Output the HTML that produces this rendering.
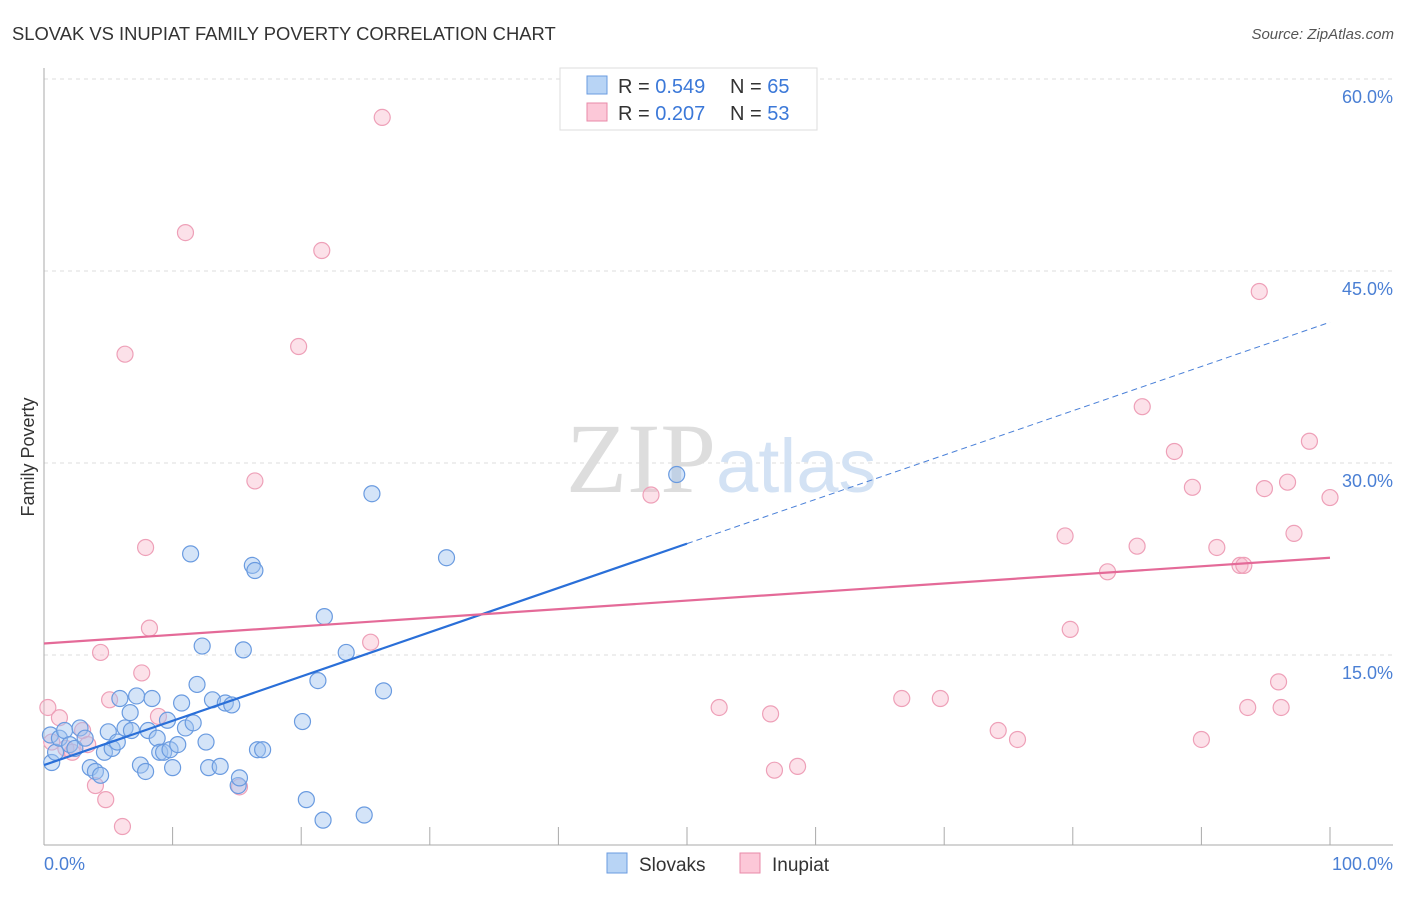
<!DOCTYPE html>
<html><head><meta charset="utf-8"><style>
body{margin:0;background:#fff;font-family:"Liberation Sans",sans-serif}
</style></head><body>
<svg width="1406" height="892" xmlns="http://www.w3.org/2000/svg" style="font-family:'Liberation Sans',sans-serif">
<text x="12" y="40" font-size="18.4" fill="#333">SLOVAK VS INUPIAT FAMILY POVERTY CORRELATION CHART</text>
<text x="1394" y="39" font-size="15" fill="#555" font-style="italic" text-anchor="end">Source: ZipAtlas.com</text>
<g id="grid"></g>
<text x="716" y="492" font-size="100" fill="#ddd" text-anchor="end" font-family="'Liberation Serif',serif">ZIP</text>
<text x="716" y="492" font-size="76" fill="#d3e2f4">atlas</text>
<text transform="translate(34,457) rotate(-90)" font-size="18" fill="#333" text-anchor="middle">Family Poverty</text>
<g id="pts"></g>
<g id="lines"></g>
<g>
<rect x="560" y="68" width="257" height="62" fill="#fff" stroke="#ddd"/>
<rect x="587" y="76" width="20" height="18" fill="#b8d4f5" stroke="#6a9be0"/>
<rect x="587" y="103" width="20" height="18" fill="#fcc8d8" stroke="#e88aa8"/>
<text x="618" y="93" font-size="20" fill="#333">R = <tspan fill="#3b78d8">0.549</tspan></text>
<text x="730" y="93" font-size="20" fill="#333">N = <tspan fill="#3b78d8">65</tspan></text>
<text x="618" y="120" font-size="20" fill="#333">R = <tspan fill="#3b78d8">0.207</tspan></text>
<text x="730" y="120" font-size="20" fill="#333">N = <tspan fill="#3b78d8">53</tspan></text>
</g>
<g>
<rect x="607" y="853" width="20" height="20" fill="#b8d4f5" stroke="#6a9be0"/>
<text x="639" y="871" font-size="19" fill="#333">Slovaks</text>
<rect x="740" y="853" width="20" height="20" fill="#fcc8d8" stroke="#e88aa8"/>
<text x="772" y="871" font-size="19" fill="#333">Inupiat</text>
</g>
</svg>
<script>
const blueX=[0.5,0.6,0.9,1.2,1.6,2.0,2.4,2.8,3.2,3.6,4.0,4.4,4.7,5.0,5.3,5.7,5.9,6.3,6.7,6.8,7.2,7.5,7.9,8.1,8.4,8.8,9.0,9.3,9.6,9.8,10.0,10.4,10.7,11.0,11.4,11.6,11.9,12.3,12.6,12.8,13.1,13.7,14.1,14.6,15.1,15.2,15.5,16.2,16.4,16.6,17.0,20.1,20.4,21.3,21.7,21.8,23.5,24.9,25.5,26.4,31.3,49.2];
const blueY=[8.75,6.6,7.4,8.5,9.1,8.0,7.7,9.3,8.5,6.2,5.9,5.6,7.4,9.0,7.7,8.2,11.6,9.3,10.5,9.1,11.8,6.4,5.9,9.1,11.6,8.5,7.4,7.4,9.9,7.6,6.2,8.0,11.25,9.3,22.9,9.7,12.7,15.7,8.2,6.2,11.5,6.3,11.25,11.1,4.8,5.4,15.4,22.0,21.6,7.6,7.6,9.8,3.7,13.0,2.1,18.0,15.2,2.5,27.6,12.2,22.6,29.1];
const pinkX=[0.3,0.6,1.2,1.7,2.2,3.0,3.4,4.0,4.4,4.8,5.1,6.1,6.3,7.6,7.9,8.2,8.9,11.0,15.2,16.4,19.8,21.6,25.4,26.3,47.2,52.5,56.5,56.8,58.6,66.7,69.7,74.2,75.7,79.4,79.8,82.7,85.0,85.4,87.9,89.3,90.0,91.2,93.0,93.3,93.6,94.5,94.9,96.0,96.2,96.7,97.2,98.4,100];
const pinkY=[10.9,8.2,10.1,7.7,7.4,9.1,8.0,4.8,15.2,3.7,11.5,1.6,38.5,13.6,23.4,17.1,10.2,48.0,4.7,28.6,39.1,46.6,16.0,57.0,27.5,10.9,10.4,6.0,6.3,11.6,11.6,9.1,8.4,24.3,17.0,21.5,23.5,34.4,30.9,28.1,8.4,23.4,22.0,22.0,10.9,43.4,28.0,12.9,10.9,28.5,24.5,31.7,27.3];
const yTicks=[15,30,45,60];
const yTickLabels=["15.0%","30.0%","45.0%","60.0%"];
const xTicks=[0,10,20,30,40,50,60,70,80,90,100];
const blueTrend=[6.4,41.0];
const pinkTrend=[15.9,22.6];
const NS="http://www.w3.org/2000/svg";
const sx=v=>44+v*12.86, sy=v=>847-v*12.8;
function mk(p,t,a){const e=document.createElementNS(NS,t);for(const k in a)e.setAttribute(k,a[k]);p.appendChild(e);return e;}
const g=document.getElementById('grid');
yTicks.forEach((t,i)=>{
 const l=mk(g,'line',{x1:44,x2:1393,y1:sy(t),y2:sy(t),stroke:'#ddd','stroke-dasharray':'4,4'});
 
 
 const tx=mk(g,'text',{x:1393,y:sy(t)+24,'font-size':18,fill:'#4a7fd4','text-anchor':'end'});
 tx.textContent=yTickLabels[i];
 
 
});
const ya=mk(g,'line',{x1:44,x2:44,y1:68,y2:845,stroke:'#aaa'});


const xa=mk(g,'line',{x1:44,x2:1393,y1:845,y2:845,stroke:'#aaa'});


xTicks.forEach(t=>{const l=mk(g,'line',{x1:sx(t),x2:sx(t),y1:827,y2:845,stroke:'#aaa'});
 
 });
const x0=mk(g,'text',{x:44,y:870,'font-size':18,fill:'#4a7fd4'});x0.textContent='0.0%';


const x1=mk(g,'text',{x:1393,y:870,'font-size':18,fill:'#4a7fd4','text-anchor':'end'});x1.textContent='100.0%';


const P=document.getElementById('pts');
pinkX.forEach((x,i)=>{const c=mk(P,'circle',{cx:sx(x),cy:sy(pinkY[i]),r:8,fill:'rgba(248,180,200,0.4)',stroke:'#eea0b8','stroke-width':1.2});
 
 });
blueX.forEach((x,i)=>{const c=mk(P,'circle',{cx:sx(x),cy:sy(blueY[i]),r:8,fill:'rgba(160,195,240,0.45)',stroke:'#6a9be0','stroke-width':1.2});
 
 });
const L=document.getElementById('lines');
const by=x=>blueTrend[0]+(blueTrend[1]-blueTrend[0])*x/100;
const b1=mk(L,'line',{x1:sx(0),y1:sy(by(0)),x2:sx(50),y2:sy(by(50)),stroke:'#2a6fd8','stroke-width':2.2});


const b2=mk(L,'line',{x1:sx(50),y1:sy(by(50)),x2:sx(100),y2:sy(by(100)),stroke:'#4a80d8','stroke-width':1,'stroke-dasharray':'6,4'});


const p1=mk(L,'line',{x1:sx(0),y1:sy(pinkTrend[0]),x2:sx(100),y2:sy(pinkTrend[1]),stroke:'#e46a98','stroke-width':2.2});


</script>
</body></html>
